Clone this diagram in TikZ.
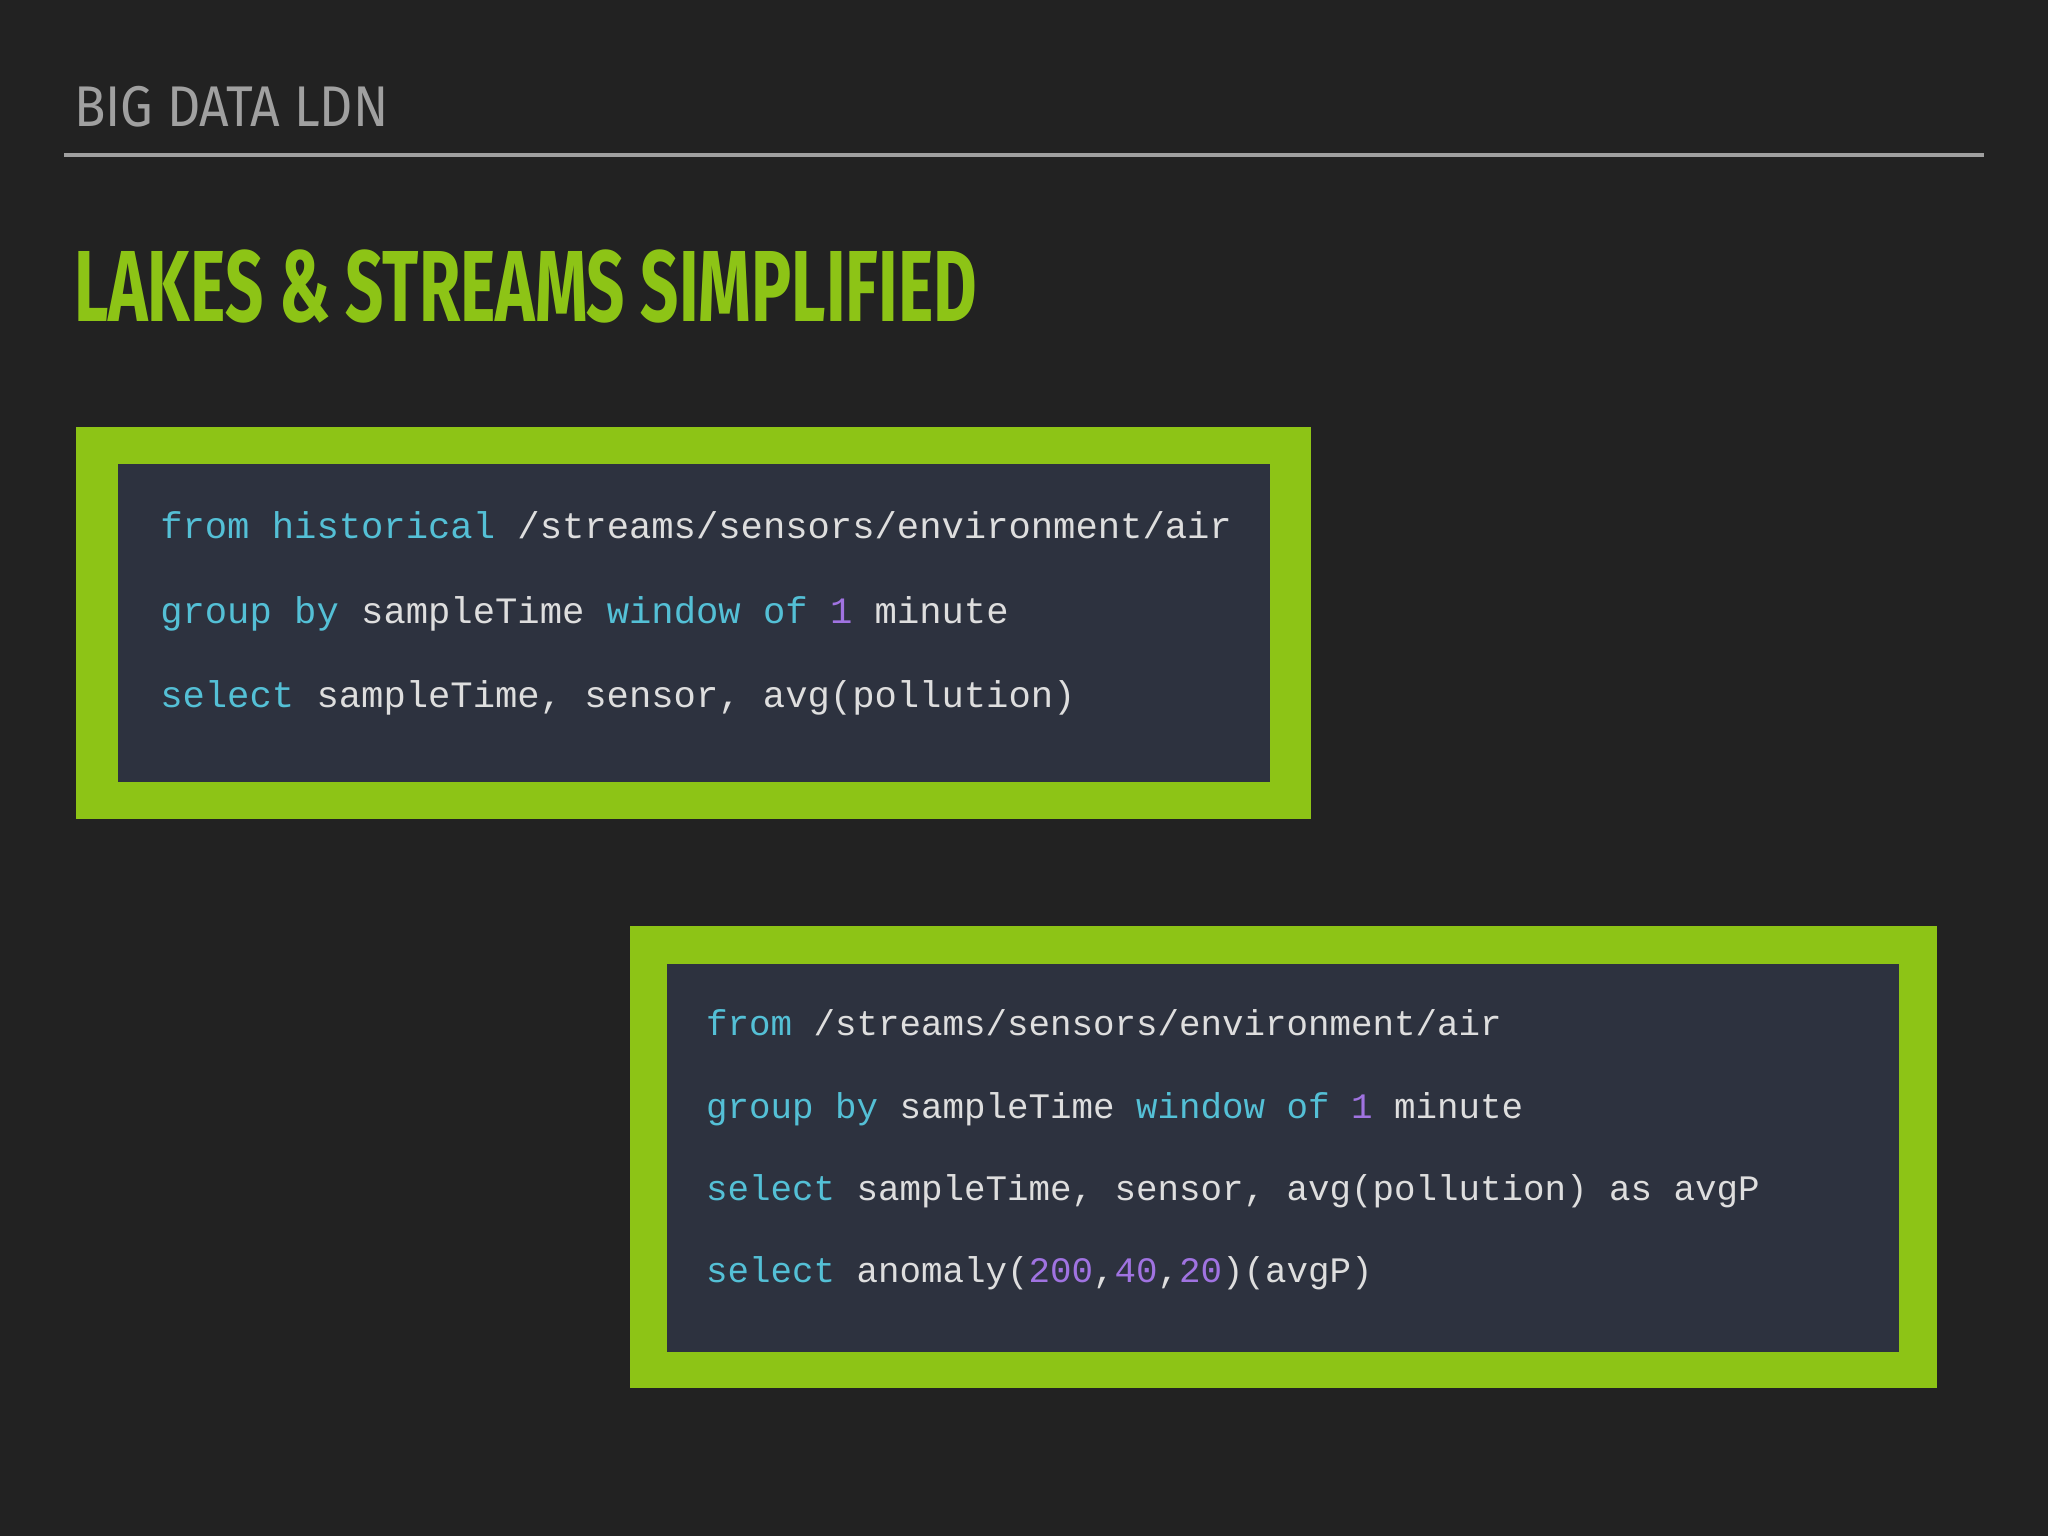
\documentclass[tikz,border=0pt]{standalone}
\usepackage{fontspec}
\setmainfont{Fira Sans}
\setmonofont{Liberation Mono}
\definecolor{bg}{RGB}{34,34,34}
\definecolor{grn}{RGB}{141,196,22}
\definecolor{codebg}{RGB}{45,50,63}
\definecolor{kw}{RGB}{84,192,214}
\definecolor{txt}{RGB}{222,222,222}
\definecolor{num}{RGB}{160,115,225}
\definecolor{hdr}{RGB}{160,160,160}
\newcommand{\kw}[1]{\textcolor{kw}{#1}}
\newcommand{\nm}[1]{\textcolor{num}{#1}}
\begin{document}
\begin{tikzpicture}[x=0.01cm,y=-0.01cm,
  code/.style={anchor=base west,inner sep=0,text=txt,font=\ttfamily\fontsize{7.8pt}{9pt}\selectfont},
  codeA/.style={code,font=\ttfamily\fontsize{8.1pt}{9pt}\selectfont}]
\fill[bg] (0,0) rectangle (1568,1176);
\useasboundingbox (0,0) rectangle (1568,1176);
\node[anchor=base west,inner sep=0,text=hdr,font=\fontsize{12.5pt}{14pt}\selectfont] (hdr) at (56,97) {\scalebox{0.9}[1]{BIG DATA LDN}};
\draw[hdr,line width=0.03cm] (49,119) -- (1519,119);
\node[anchor=base west,inner sep=0,text=grn,font=\bfseries\fontsize{22pt}{24pt}\selectfont] (title) at (56,246) {\scalebox{0.663}[1]{LAKES \& STREAMS SIMPLIFIED}};
% box 1
\fill[grn] (58,327) rectangle (1004,627);
\fill[codebg] (90,355) rectangle (972,599);
\node[codeA] (a1) at (122,412) {\kw{from historical} /streams/sensors/environment/air};
\node[codeA] (a2) at (122,477) {\kw{group by} sampleTime \kw{window of} \nm{1} minute};
\node[codeA] (a3) at (122,542) {\kw{select} sampleTime, sensor, avg(pollution)};
% box 2
\fill[grn] (482,709) rectangle (1483,1063);
\fill[codebg] (511,738) rectangle (1454,1035);
\node[code] (b1) at (540,793) {\kw{from} /streams/sensors/environment/air};
\node[code] (b2) at (540,856) {\kw{group by} sampleTime \kw{window of} \nm{1} minute};
\node[code] (b3) at (540,919) {\kw{select} sampleTime, sensor, avg(pollution) as avgP};
\node[code] (b4) at (540,982) {\kw{select} anomaly(\nm{200},\nm{40},\nm{20})(avgP)};
\end{tikzpicture}
\end{document}
